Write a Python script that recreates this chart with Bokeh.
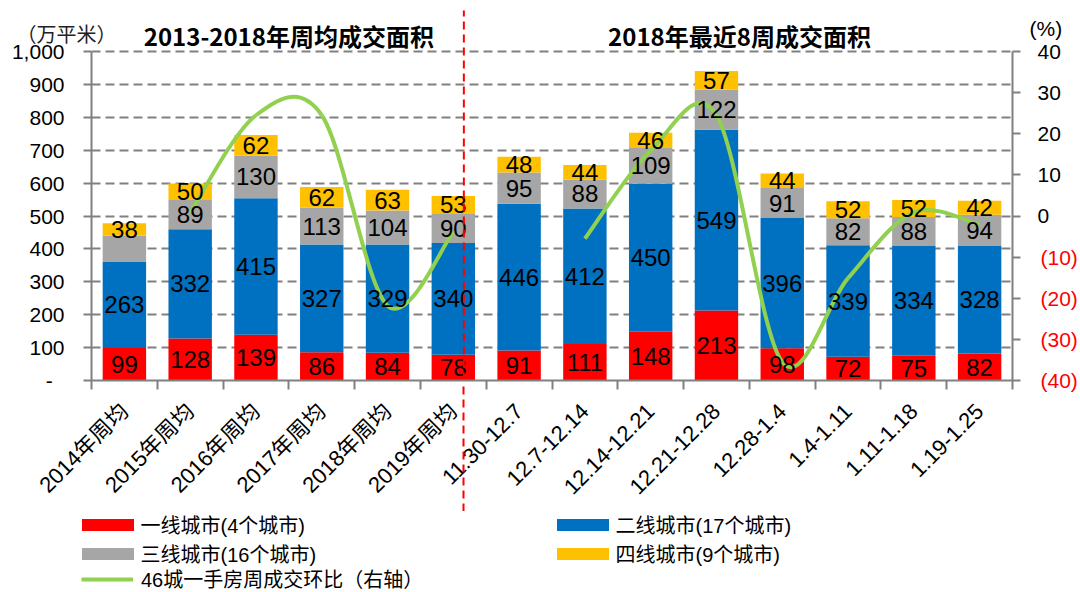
import numpy as np
from bokeh.plotting import figure
from bokeh.layouts import column
from bokeh.models import (Range1d, LinearAxis, FixedTicker, NumeralTickFormatter, ColumnDataSource,
                          Legend, LegendItem)
from bokeh.core.properties import value
from bokeh.embed import file_html
from bokeh.resources import INLINE

# ---------------- data ----------------
categories = ["2014年周均", "2015年周均", "2016年周均", "2017年周均", "2018年周均", "2019年周均",
              "11.30-12.7", "12.7-12.14", "12.14-12.21", "12.21-12.28", "12.28-1.4",
              "1.4-1.11", "1.11-1.18", "1.19-1.25"]
tier1 = [99, 128, 139, 86, 84, 78, 91, 111, 148, 213, 98, 72, 75, 82]
tier2 = [263, 332, 415, 327, 329, 340, 446, 412, 450, 549, 396, 339, 334, 328]
tier3 = [78, 89, 130, 113, 104, 90, 95, 88, 109, 122, 91, 82, 88, 94]
tier4 = [38, 50, 62, 62, 63, 53, 48, 44, 46, 57, 44, 52, 52, 42]
tier3_shown = [False] + [True] * 13
wow_pct = [None, 0.9, 24.5, 24.5, -21.8, -3.9, None, -5.5, 15.9, 24.5, -35.5, -15.1, 0.9, -2.1]
series_names = ["一线城市(4个城市)", "二线城市(17个城市)", "三线城市(16个城市)", "四线城市(9个城市)"]
line_name = "46城一手房周成交环比（右轴）"
left_ticks = list(range(0, 1001, 100))
right_ticks = [40, 30, 20, 10, 0, -10, -20, -30, -40]
right_tick_labels = ["40", "30", "20", "10", "0", "(10)", "(20)", "(30)", "(40)"]
title_left = "2013-2018年周均成交面积"
title_right = "2018年最近8周成交面积"
unit_left = "（万平米）"
unit_right = "(%)"

# ---------------- styles / layout ----------------
colors = ["#FF0000", "#0070C0", "#A6A6A6", "#FFC000"]
green = "#92D050"
gray = "#808080"
LAT = "Liberation Sans"
MIX = "Liberation Sans, Noto Sans CJK SC"
W, H = 1080, 592
MAIN_H = 511                  # main plot height, legend strip below it
FOOT = H - MAIN_H
BL, BR = 91, 64               # side borders of main plot
AXIS_Y = 380                  # pixel row of the value 0 (frame bottom)
VAL_PX = 329                  # pixels spanned by 0..1000 (and by -40..40)
FRAME_W = W - BL - BR
n = len(categories)
cw = FRAME_W / n
xs = np.arange(n) + 0.5
divider_x = 5.66


def y_at(px):          # left-axis value at a pixel row
    return 1000 * (AXIS_Y - px) / VAL_PX


def pct_at(px):        # right-axis value at a pixel row
    return -40 + 80 * (AXIS_Y - px) / VAL_PX


def no_align(fig):
    if "frame_align" in fig.properties():
        fig.frame_align = False


# ---------------- main figure (frame reaches the top edge) ----------------
p = figure(width=W, height=MAIN_H, x_range=Range1d(0, n), y_range=Range1d(0, y_at(0)),
           output_backend="svg", toolbar_location=None,
           min_border_left=BL, min_border_right=BR, min_border_top=0,
           min_border_bottom=MAIN_H - AXIS_Y)
no_align(p)
p.outline_line_color = None
p.extra_y_ranges = {"pct": Range1d(-40, pct_at(0))}

p.xgrid.visible = False
p.ygrid.ticker = FixedTicker(ticks=left_ticks)
p.ygrid.grid_line_color = gray
p.ygrid.grid_line_width = 2
p.ygrid.grid_line_dash = "9 5"

ya = p.yaxis[0]
ya.ticker = FixedTicker(ticks=left_ticks)
ya.bounds = (0, 1000)
ya.formatter = NumeralTickFormatter(format="0,0")
ya.major_label_overrides = {0: "-\u00a0\u00a0"}
ya.axis_line_color = gray
ya.axis_line_width = 2
ya.major_tick_line_color = gray
ya.major_tick_line_width = 2
ya.major_tick_out = 8
ya.major_tick_in = 0
ya.minor_tick_line_color = None
ya.major_label_standoff = 19
ya.major_label_text_font = LAT
ya.major_label_text_font_size = "21px"
ya.major_label_text_color = "black"

# unit of the left axis, as a label-only axis pulled over the first one
unit_y = round(y_at(33))
ua = LinearAxis(ticker=FixedTicker(ticks=[unit_y]))
ua.major_label_overrides = {unit_y: unit_left}
ua.axis_line_color = None
ua.major_tick_line_color = None
ua.minor_tick_line_color = None
ua.major_tick_out = 0
ua.major_tick_in = 0
ua.major_label_standoff = -108
ua.major_label_text_font = "Noto Sans CJK SC"
ua.major_label_text_font_size = "20px"
ua.major_label_text_color = "#222222"
p.add_layout(ua, "left")

xa = p.xaxis[0]
xa.ticker = FixedTicker(ticks=list(xs), minor_ticks=list(range(n + 1)))
xa.major_label_overrides = {float(x): c for x, c in zip(xs, categories)}
xa.major_label_orientation = np.pi / 4
xa.axis_line_color = gray
xa.axis_line_width = 2
xa.major_tick_line_color = None
xa.major_tick_out = 0
xa.major_tick_in = 0
xa.minor_tick_line_color = gray
xa.minor_tick_line_width = 2
xa.minor_tick_out = 9
xa.minor_tick_in = 0
xa.major_label_standoff = 18
xa.major_label_text_font = MIX
xa.major_label_text_font_size = "22px"
xa.major_label_text_color = "black"

# lower part of the red divider: one dashed tick pointing back up to the x axis
da = LinearAxis(ticker=FixedTicker(ticks=[divider_x], minor_ticks=[]))
da.major_label_overrides = {divider_x: ""}
da.axis_line_color = None
da.minor_tick_line_color = None
da.major_tick_line_color = "red"
da.major_tick_line_width = 2
da.major_tick_line_dash = "8 5"
da.major_tick_out = 0
da.major_tick_in = 128
da.major_label_standoff = 0
da.major_label_text_font_size = "1px"
p.add_layout(da, "below")

# right axis: line, ticks and the non-negative labels
ra = LinearAxis(y_range_name="pct", ticker=FixedTicker(ticks=right_ticks), bounds=(-40, 40))
ra.major_label_overrides = {t: (l if t >= 0 else "") for t, l in zip(right_ticks, right_tick_labels)}
ra.axis_line_color = gray
ra.axis_line_width = 2
ra.major_tick_line_color = gray
ra.major_tick_line_width = 2
ra.major_tick_out = 8
ra.major_tick_in = 0
ra.minor_tick_line_color = None
ra.major_label_standoff = 17
ra.major_label_text_font = LAT
ra.major_label_text_font_size = "21px"
ra.major_label_text_color = "black"
p.add_layout(ra, "right")
# label-only axis: the negative values in red, pulled back onto the first
rb = LinearAxis(y_range_name="pct", ticker=FixedTicker(ticks=right_ticks), bounds=(-40, 40))
rb.major_label_overrides = {t: (l if t < 0 else "") for t, l in zip(right_ticks, right_tick_labels)}
rb.axis_line_color = None
rb.major_tick_line_color = None
rb.minor_tick_line_color = None
rb.major_tick_out = 0
rb.major_tick_in = 0
rb.major_label_standoff = -23
rb.major_label_text_font = LAT
rb.major_label_text_font_size = "21px"
rb.major_label_text_color = "red"
p.add_layout(rb, "right")
# unit of the right axis
unit_p = round(pct_at(28), 1)
rc = LinearAxis(y_range_name="pct", ticker=FixedTicker(ticks=[unit_p]))
rc.major_label_overrides = {unit_p: unit_right}
rc.axis_line_color = None
rc.major_tick_line_color = None
rc.minor_tick_line_color = None
rc.major_tick_out = 0
rc.major_tick_in = 0
rc.major_label_standoff = -51
rc.major_label_text_font = LAT
rc.major_label_text_font_size = "21px"
rc.major_label_text_color = "black"
p.add_layout(rc, "right")

# stacked bars
stack = [tier1, tier2, tier3, tier4]
bottom = np.zeros(n)
for vals, col in zip(stack, colors):
    v = np.array(vals, dtype=float)
    src = ColumnDataSource(dict(x=xs, bottom=bottom, top=bottom + v))
    p.vbar(x="x", bottom="bottom", top="top", width=0.66, source=src,
           fill_color=col, line_color=None)
    bottom = bottom + v

# smoothed line (Catmull-Rom style Bezier segments through the data points)
runs, cur = [], []
for i, v in enumerate(wow_pct):
    if v is None:
        if cur:
            runs.append(cur)
        cur = []
    else:
        cur.append(i)
if cur:
    runs.append(cur)
bz = dict(x0=[], y0=[], x1=[], y1=[], cx0=[], cy0=[], cx1=[], cy1=[])
for run in runs:
    px = [xs[i] for i in run]
    py = [wow_pct[i] for i in run]
    m = len(run)
    for k in range(m - 1):
        a = max(k - 1, 0)
        d = min(k + 2, m - 1)
        bz["x0"].append(px[k]); bz["y0"].append(py[k])
        bz["x1"].append(px[k + 1]); bz["y1"].append(py[k + 1])
        bz["cx0"].append(px[k] + (px[k + 1] - px[a]) / 6)
        bz["cy0"].append(py[k] + (py[k + 1] - py[a]) / 6)
        bz["cx1"].append(px[k + 1] - (px[d] - px[k]) / 6)
        bz["cy1"].append(py[k + 1] - (py[d] - py[k]) / 6)
p.bezier(x0="x0", y0="y0", x1="x1", y1="y1", cx0="cx0", cy0="cy0", cx1="cx1", cy1="cy1",
         source=ColumnDataSource(bz), line_color=green, line_width=4, y_range_name="pct")

# bar value labels
bottom = np.zeros(n)
for j, vals in enumerate(stack):
    v = np.array(vals, dtype=float)
    txt = [str(int(a)) for a in vals]
    if j == 2:
        txt = [t if s else "" for t, s in zip(txt, tier3_shown)]
    src = ColumnDataSource(dict(x=xs, y=bottom + v / 2, t=txt))
    p.text(x="x", y="y", text="t", source=src, text_align="center", text_baseline="middle",
           text_font=value(LAT), text_font_size="24px", text_color="black")
    bottom = bottom + v

# red dashed divider (upper part, inside the frame)
p.segment(x0=[divider_x], y0=[0], x1=[divider_x], y1=[y_at(10)], line_color="red",
          line_width=2, line_dash="8 5")

# section titles
ty = y_at(35)
p.text(x=[3.0, 9.85], y=[ty, ty], text=[title_left, title_right], text_align="center",
       text_baseline="middle", text_font=value("Noto Sans CJK SC"), text_font_style="bold",
       text_font_size="24px", text_color="black")

# ---------------- legend strip ----------------
ft = figure(width=W, height=FOOT, x_range=Range1d(0, W), y_range=Range1d(0, FOOT),
            output_backend="svg", toolbar_location=None,
            min_border_left=0, min_border_right=0, min_border_top=0, min_border_bottom=0)
no_align(ft)
ft.axis.visible = False
ft.grid.visible = False
ft.outline_line_color = None
keys = [ft.vbar(x=[0], top=[0], bottom=[0], width=0.66, fill_color=c, line_color=None)
        for c in colors]
key_line = ft.line(x=[0], y=[0], line_color=green, line_width=4)
common = dict(padding=0, margin=0, border_line_color=None, background_fill_alpha=0,
              label_text_font=MIX, label_text_font_size="20px", label_text_color="black",
              label_text_line_height=1.0, label_height=20, spacing=-3, orientation="vertical")
legend_bars = Legend(items=[LegendItem(label=series_names[0], renderers=[keys[0]]),
                            LegendItem(label=series_names[2], renderers=[keys[2]]),
                            LegendItem(label=series_names[1], renderers=[keys[1]]),
                            LegendItem(label=series_names[3], renderers=[keys[3]])],
                     nrows=2, location=(74.5, 24), glyph_width=65, glyph_height=15,
                     label_standoff=1, label_width=409, **common)
legend_line = Legend(items=[LegendItem(label=line_name, renderers=[key_line])],
                     location=(81, -1), glyph_width=52, glyph_height=12, label_standoff=8,
                     **common)
ft.add_layout(legend_bars, "center")
ft.add_layout(legend_line, "center")

layout = column(p, ft, spacing=0)
open("out.html", "w").write(file_html(layout, INLINE))
